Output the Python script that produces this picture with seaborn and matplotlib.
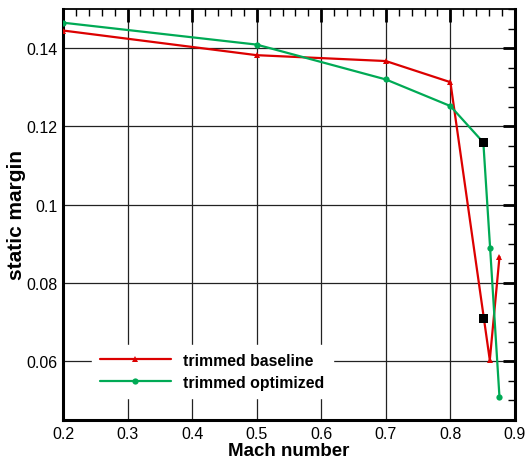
import numpy as np
import pandas as pd
import matplotlib
matplotlib.use("Agg")
import matplotlib.pyplot as plt
import seaborn as sns
from matplotlib.ticker import MultipleLocator

mach_base = [0.2, 0.5, 0.7, 0.8, 0.861, 0.876]
sm_base = [0.1445, 0.1382, 0.1367, 0.1313, 0.0603, 0.0867]
mach_opt = [0.2, 0.5, 0.7, 0.8, 0.851, 0.8615, 0.876]
sm_opt = [0.1465, 0.1409, 0.1320, 0.1252, 0.1159, 0.0889, 0.0508]
mach_sq = [0.851, 0.851]
sm_sq = [0.1159, 0.0709]
labels = ["trimmed baseline", "trimmed optimized"]

sns.set_theme(style="white")
plt.rcParams['font.family'] = ['Liberation Sans', 'DejaVu Sans']
plt.rcParams['text.color'] = 'black'
plt.rcParams['axes.labelcolor'] = 'black'

fig = plt.figure(figsize=(5.29, 4.60), dpi=100)
ax = fig.add_axes([0.119, 0.0848, 0.8545, 0.8935])

red = "#dc0000"
green = "#00aa55"

df_b = pd.DataFrame({"x": mach_base, "y": sm_base})
df_o = pd.DataFrame({"x": mach_opt, "y": sm_opt})
df_s = pd.DataFrame({"x": mach_sq, "y": sm_sq})

sns.lineplot(data=df_b, x="x", y="y", sort=False, color=red, lw=1.6,
             marker="^", markersize=4.5, markeredgewidth=0, label=labels[0], ax=ax, zorder=3)
sns.lineplot(data=df_o, x="x", y="y", sort=False, color=green, lw=1.6,
             marker="o", markersize=4.5, markeredgewidth=0, label=labels[1], ax=ax, zorder=3)
sns.scatterplot(data=df_s, x="x", y="y", marker="s", s=36, color="black",
                edgecolor="none", ax=ax, zorder=4, legend=False)

ax.set_xlim(0.2, 0.9)
ax.set_ylim(0.045, 0.15)
ax.xaxis.set_minor_locator(MultipleLocator(0.02))
ax.yaxis.set_minor_locator(MultipleLocator(0.005))
ax.set_yticks([0.06, 0.08, 0.1, 0.12, 0.14])
ax.set_yticklabels(["0.06", "0.08", "0.1", "0.12", "0.14"])
ax.set_xticks([0.2, 0.3, 0.4, 0.5, 0.6, 0.7, 0.8, 0.9])
ax.set_xticklabels(["0.2", "0.3", "0.4", "0.5", "0.6", "0.7", "0.8", "0.9"])

ax.grid(True, which="major", color="#222222", lw=0.9)
ax.set_axisbelow(True)
ax.tick_params(which="both", direction="in", top=True, right=True, colors="black",
               labelsize=11.5, pad=4)
ax.tick_params(which="major", length=9, width=2)
ax.tick_params(which="minor", length=5, width=1)
for s in ["left", "bottom", "right"]:
    ax.spines[s].set_linewidth(2.2)
    ax.spines[s].set_color("black")
ax.spines["top"].set_linewidth(1.3)
ax.spines["top"].set_color("black")

ax.set_xlabel("Mach number", fontsize=13.5, fontweight="bold", labelpad=1, color="black")
ax.set_ylabel("static margin", fontsize=15, fontweight="bold", labelpad=0, color="black")

leg = ax.legend(loc="lower left", bbox_to_anchor=(0.046, 0.035), frameon=True,
                fancybox=False, framealpha=1, edgecolor="white", facecolor="white",
                prop={"weight": "bold", "size": 11.4}, handlelength=4.5,
                labelspacing=0.45, borderpad=0.5, handletextpad=0.8, labelcolor="black")

fig.savefig("out.png", dpi=100)
